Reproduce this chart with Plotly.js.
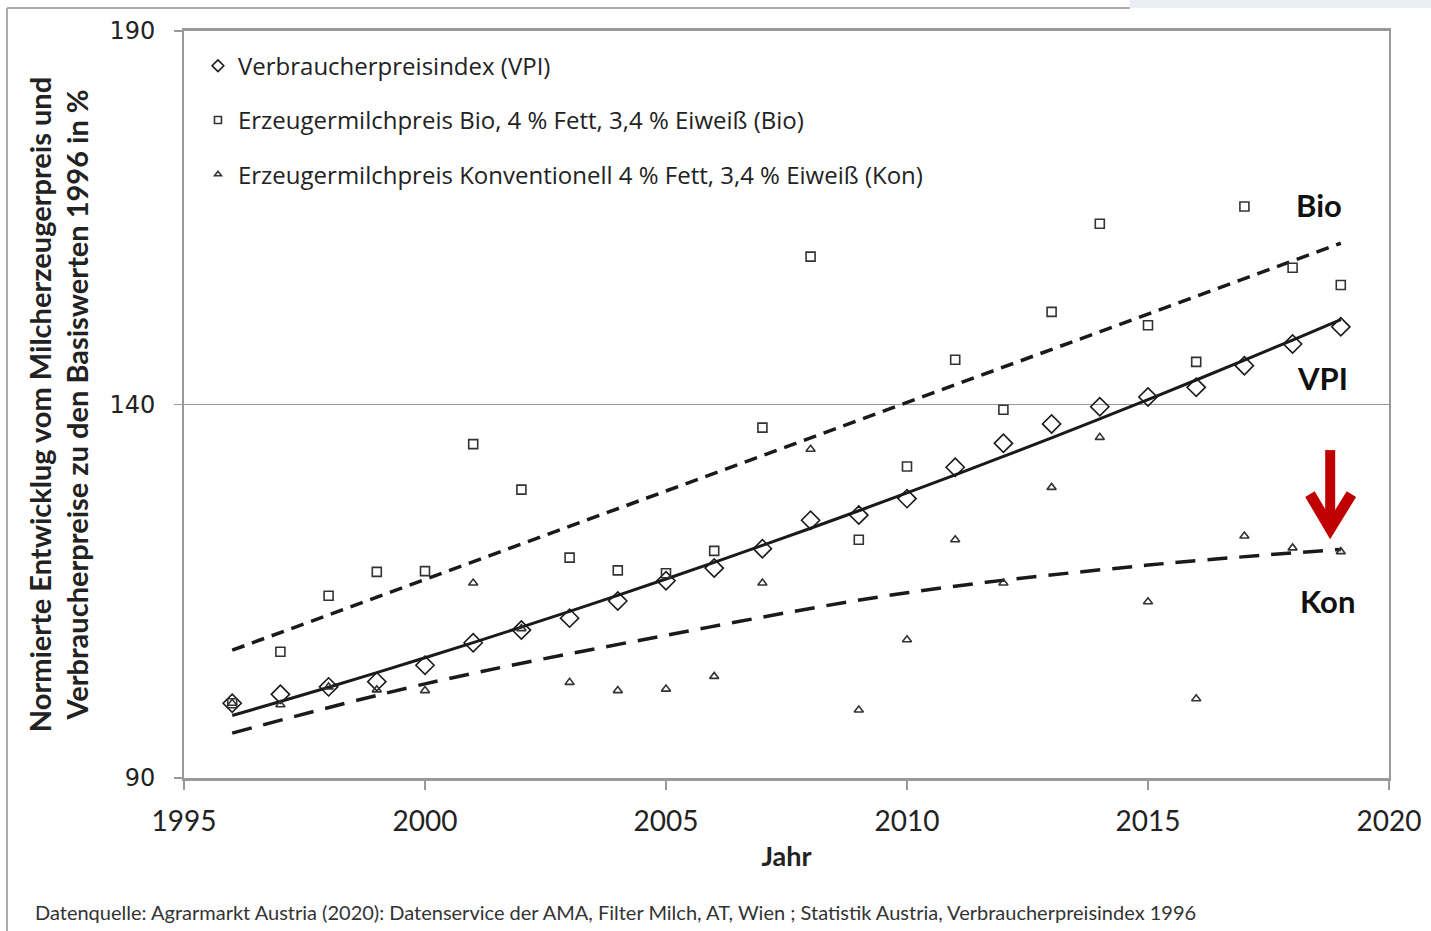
<!DOCTYPE html>
<html>
<head>
<meta charset="utf-8">
<script src="https://cdn.plot.ly/plotly-3.0.1.min.js"></script>
<style>
  html, body { margin: 0; padding: 0; background: #fff; }
  #chart { width: 1431px; height: 931px; }
</style>
</head>
<body>
<div id="chart"></div>
<script>
// ---- data ----
const years = [1996,1997,1998,1999,2000,2001,2002,2003,2004,2005,2006,2007,2008,2009,2010,2011,2012,2013,2014,2015,2016,2017,2018,2019];
const vpi = [100.0,101.2,102.2,102.9,105.1,108.1,109.8,111.4,113.7,116.4,118.1,120.7,124.5,125.2,127.4,131.6,134.8,137.4,139.7,141.0,142.3,145.2,148.1,150.4];
const bio = [100.0,106.9,114.4,117.6,117.7,134.7,128.6,119.5,117.8,117.4,120.4,136.9,159.8,121.9,131.7,146.0,139.3,152.4,164.2,150.6,145.7,166.5,158.3,156.0];
const kon = [100.0,99.8,102.2,101.8,101.7,116.1,110.0,102.8,101.7,101.9,103.6,116.1,134.0,99.1,108.5,121.9,116.1,128.9,135.6,113.6,100.6,122.4,120.8,120.3];

// trend curve of "Kon" as drawn in the reference
const konTrendYears = [1996, 2000, 2005, 2010, 2015, 2019];
const konTrendValues = [96.0, 102.6, 109.1, 114.8, 118.5, 120.6];

const xTicks = [1995, 2000, 2005, 2010, 2015, 2020];
const yTicks = [90, 140, 190];

const legendNames = [
  "Verbraucherpreisindex (VPI)",
  "Erzeugermilchpreis Bio, 4 % Fett, 3,4 % Eiweiß (Bio)",
  "Erzeugermilchpreis Konventionell 4 % Fett, 3,4 % Eiweiß (Kon)"
];
const seriesLabels = ["Bio", "VPI", "Kon"];
const yTitle = "Normierte Entwicklug vom Milcherzeugerpreis und<br>Verbraucherpreise zu den Basiswerten 1996 in %";
const xTitle = "Jahr";
const source = "Datenquelle: Agrarmarkt Austria (2020): Datenservice der AMA, Filter Milch, AT, Wien ; Statistik Austria, Verbraucherpreisindex 1996";

// ---- least-squares polynomial trend ----
function polyfit(xs, ys, deg) {
  const n = deg + 1;
  const A = Array.from({length: n}, () => new Array(n + 1).fill(0));
  for (let k = 0; k < xs.length; k++) {
    const t = xs[k] - xs[0];
    for (let i = 0; i < n; i++) {
      for (let j = 0; j < n; j++) A[i][j] += Math.pow(t, i + j);
      A[i][n] += ys[k] * Math.pow(t, i);
    }
  }
  for (let c = 0; c < n; c++) {
    let p = c;
    for (let r = c + 1; r < n; r++) if (Math.abs(A[r][c]) > Math.abs(A[p][c])) p = r;
    [A[c], A[p]] = [A[p], A[c]];
    for (let r = 0; r < n; r++) {
      if (r === c) continue;
      const f = A[r][c] / A[c][c];
      for (let j = c; j <= n; j++) A[r][j] -= f * A[c][j];
    }
  }
  const coef = A.map((row, i) => row[n] / row[i]);
  return xs.map(x => coef.reduce((s, a, i) => s + a * Math.pow(x - xs[0], i), 0));
}

const vpiTrend = polyfit(years, vpi, 2);
const bioTrend = polyfit(years, bio, 1);

const ink = "#1a1a1a";
const traces = [
  {x: years, y: bioTrend, mode: "lines", line: {color: ink, width: 3.5, dash: "13px,8px"}, showlegend: false, hoverinfo: "skip"},
  {x: konTrendYears, y: konTrendValues, mode: "lines", line: {color: ink, width: 3.5, dash: "20px,12px", shape: "spline", smoothing: 1}, showlegend: false, hoverinfo: "skip"},
  {x: years, y: vpiTrend, mode: "lines", line: {color: ink, width: 3, shape: "spline"}, showlegend: false, hoverinfo: "skip"},
  {x: years, y: vpi, mode: "markers", name: legendNames[0], showlegend: false,
   marker: {symbol: "diamond-open", size: 14, color: ink, line: {width: 1.6, color: ink}}},
  {x: years, y: bio, mode: "markers", name: legendNames[1], showlegend: false,
   marker: {symbol: "square-open", size: 9, color: "#333", line: {width: 1.6, color: "#333"}}},
  {x: years, y: kon, mode: "markers", name: legendNames[2], showlegend: false,
   marker: {symbol: "triangle-up-open", size: 8, color: "#333", line: {width: 1.6, color: "#333"}}},
  // legend entries (small symbols as in the original legend)
  {x: [null], y: [null], mode: "markers", name: legendNames[0], legendgroup: "a",
   marker: {symbol: "diamond-open", size: 9, color: ink, line: {width: 1.6, color: ink}}},
  {x: [null], y: [null], mode: "markers", name: legendNames[1], legendgroup: "b",
   marker: {symbol: "square-open", size: 7, color: "#333", line: {width: 1.6, color: "#333"}}},
  {x: [null], y: [null], mode: "markers", name: legendNames[2], legendgroup: "c",
   marker: {symbol: "triangle-up-open", size: 6, color: "#333", line: {width: 1.6, color: "#333"}}}
];

const red = "#c00000";
const layout = {
  width: 1431, height: 931,
  margin: {l: 184, r: 42, t: 31, b: 153},
  paper_bgcolor: "#fff", plot_bgcolor: "#fff",
  showlegend: true,
  legend: {x: 0.0116, y: 0.983, xanchor: "left", yanchor: "top", bgcolor: "rgba(0,0,0,0)",
           font: {family: "Open Sans", size: 24, color: "#222"}, tracegroupgap: 20},
  xaxis: {
    range: [1995, 2020], tickvals: xTicks, ticktext: xTicks.map(String),
    ticks: "outside", ticklen: 9, tickcolor: "#999", tickwidth: 1.5,
    tickfont: {family: "Lato", size: 28, color: "#222"}, ticklabelstandoff: 7,
    showline: true, linecolor: "#999", linewidth: 3, mirror: true,
    showgrid: false, zeroline: false,
    title: {text: xTitle, font: {family: "Lato", size: 27, color: "#222", weight: "bold"}, standoff: 12}
  },
  yaxis: {
    range: [90, 190], tickvals: yTicks, ticktext: yTicks.map(String),
    ticks: "outside", ticklen: 8, tickcolor: "#999", tickwidth: 1.5,
    tickfont: {family: "DejaVu Sans", size: 24, color: "#222"}, ticklabelstandoff: 14,
    showline: true, linecolor: "#999", linewidth: 2, mirror: true,
    showgrid: true, gridcolor: "#999", gridwidth: 1, zeroline: false,
    title: {text: yTitle, font: {family: "Lato", size: 29, color: "#222", weight: "bold"}, standoff: 12}
  },
  annotations: [
    {x: 2018.55, y: 166.7, xref: "x", yref: "y", text: seriesLabels[0], showarrow: false,
     font: {family: "Lato", size: 31, color: "#111", weight: "bold"}},
    {x: 2018.63, y: 143.5, xref: "x", yref: "y", text: seriesLabels[1], showarrow: false,
     font: {family: "Lato", size: 31, color: "#111", weight: "bold"}},
    {x: 2018.73, y: 113.7, xref: "x", yref: "y", text: seriesLabels[2], showarrow: false,
     font: {family: "Lato", size: 31, color: "#111", weight: "bold"}},
    {x: -0.1253, y: -0.1794, xref: "paper", yref: "paper", xanchor: "left", yanchor: "middle",
     text: source, showarrow: false, font: {family: "Lato", size: 20, color: "#333"}}
  ],
  shapes: [
    // outer frame of the picture
    {type: "line", xref: "paper", yref: "paper", x0: -0.1469, x1: -0.1469, y0: 1.0308, y1: -0.21, line: {color: "#aaa", width: 2}},
    {type: "line", xref: "paper", yref: "paper", x0: -0.1469, x1: 0.785, y0: 1.0308, y1: 1.0308, line: {color: "#aaa", width: 2}},
    {type: "rect", xref: "paper", yref: "paper", x0: 0.785, x1: 1.04, y0: 1.0308, y1: 1.045, line: {width: 0}, fillcolor: "#e8eef4"},
    // red arrow
    {type: "line", xref: "x", yref: "y", x0: 2018.78, x1: 2018.78, y0: 133.9, y1: 124.5, line: {color: red, width: 10}},
    {type: "path", xref: "x", yref: "y", path: "M 2018.36,128.0 L 2018.78,123.4 L 2019.22,128.0", line: {color: red, width: 11}}
  ]
};

Plotly.newPlot("chart", traces, layout, {displayModeBar: false, staticPlot: true});
</script>
</body>
</html>
